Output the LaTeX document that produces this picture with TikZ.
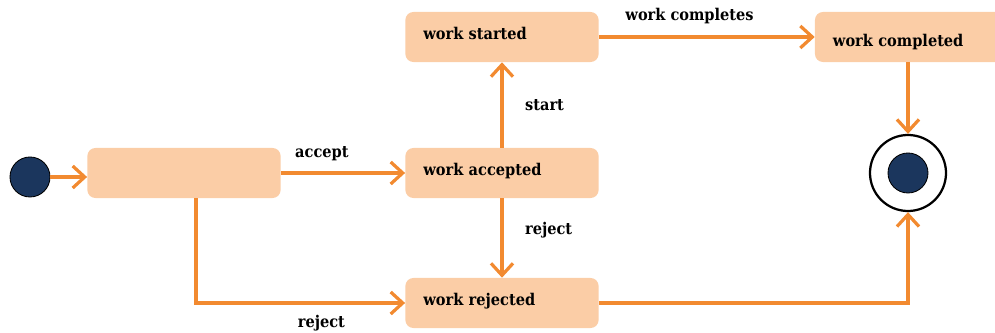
\documentclass[tikz,border=0pt]{standalone}
\usepackage{fontspec}
\setmainfont{DejaVu Serif Condensed}
\usetikzlibrary{arrows.meta,positioning}
\definecolor{Flow}{HTML}{F28A30}
\definecolor{PaleOrange}{HTML}{FBCDA6}
\definecolor{Navy}{HTML}{1B365D}
\tikzset{
  state/.style={fill=PaleOrange,rounded corners=2mm,minimum width=4.83cm,minimum height=1.25cm,text width=3.93cm,align=left,inner xsep=4.5mm,text height=9pt,text depth=4.8pt,font=\fontsize{11.5}{13}\selectfont\bfseries},
  trans/.style={-{Straight Barb[length=3mm,width=5.5mm]},draw=Flow,line width=2.3pt},
  tlabel/.style={font=\fontsize{11.5}{13}\selectfont\bfseries},
}
\begin{document}
\begin{tikzpicture}[x=0.025cm,y=-0.025cm]
        \useasboundingbox (0,0) rectangle (995,333);
        \node[circle,fill=Navy,draw=black,line width=.6pt,minimum size=1cm,inner sep=0pt] (init) at (30,177) {};
        \node[state] (new) at (184,173) {};
        \node[state] (accepted) at (502,173) {work accepted};
        \node[state] (started) at (502,37) {work started};
        \node[state] (rejected) at (502,303) {work rejected};
        \node[state,minimum width=4.7cm,text width=3.8cm,text height=14pt,text depth=0.4pt] (completed) at (909,37) {work completed};
        \node[circle,draw=black,line width=1.6pt,minimum size=1.9cm,inner sep=0pt] (final) at (908,173) {};
        \node[circle,fill=Navy,draw=black,line width=.6pt,minimum size=1cm,inner sep=0pt] at (final) {};
        \draw[trans] (init) -- (init -| new.west);
        \draw[trans] (new.east) -- node[tlabel,above=4pt,pos=.33] {accept} (accepted.west);
        \draw[trans] (accepted) -- node[tlabel,right=12pt] {start} (started);
        \draw[trans] (accepted) -- node[tlabel,right=12pt,pos=.4] {reject} (rejected);
        \draw[trans] ([xshift=3mm]new.south) |- node[tlabel,below=4pt,pos=.8] {reject} (rejected.west);
        \draw[trans] (started) -- node[tlabel,above=5pt,pos=.42] {work completes} (completed.west |- started);
        \draw[trans] (completed.south -| final) -- (final);
        \draw[trans] (rejected) -| (final);
      \end{tikzpicture}
\end{document}
